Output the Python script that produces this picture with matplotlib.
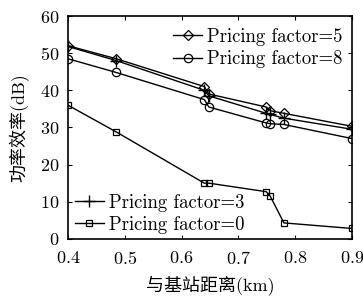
import numpy as np
import matplotlib.pyplot as plt

plt.rcParams['font.family'] = ['cmr10', 'Noto Sans CJK SC']
plt.rcParams['mathtext.fontset'] = 'cm'
plt.rcParams['axes.formatter.use_mathtext'] = True

dist = [0.4, 0.485, 0.64, 0.648, 0.749, 0.756, 0.78, 0.9]
pf5 = [52.0, 48.5, 41.0, 39.0, 35.5, 34.5, 33.8, 30.3]
pf8 = [48.5, 44.8, 37.5, 35.5, 31.2, 31.0, 30.8, 27.0]
pf3 = [51.8, 48.0, 40.0, 38.5, 33.8, 33.5, 32.5, 29.5]
pf0 = [36.0, 28.8, 15.0, 15.0, 12.7, 11.5, 4.3, 2.8]

fig = plt.figure(figsize=(3.63, 3.02), dpi=100)
ax = fig.add_axes([0.187, 0.209, 0.783, 0.738])

l5, = ax.plot(dist, pf5, 'k-', marker='D', ms=5, mfc='none', mew=0.9, lw=1, label='Pricing factor=5')
l8, = ax.plot(dist, pf8, 'k-', marker='o', ms=6, mfc='none', mew=0.9, lw=1, label='Pricing factor=8')
l3, = ax.plot(dist, pf3, 'k-', marker='+', ms=8, mew=1, lw=1, label='Pricing factor=3')
l0, = ax.plot(dist, pf0, 'k-', marker='s', ms=5, mfc='none', mew=0.9, lw=1, label='Pricing factor=0')

leg1 = ax.legend(handles=[l5, l8], loc='upper right', frameon=False, fontsize=13.5,
                 handlelength=1.5, handletextpad=0.3, borderaxespad=0.1, labelspacing=0.25,
                 bbox_to_anchor=(1.0, 0.99))
ax.add_artist(leg1)
ax.legend(handles=[l3, l0], loc='lower left', frameon=False, fontsize=13.5,
          handlelength=1.5, handletextpad=0.3, borderaxespad=0.0, labelspacing=0.2,
          bbox_to_anchor=(0.0, -0.01))

ax.set_xlim(0.4, 0.9)
ax.set_ylim(0, 60)
ax.set_xticks(np.arange(0.4, 0.91, 0.1))
ax.set_yticks(np.arange(0, 61, 10))
ax.tick_params(direction='in', top=True, right=True, labelsize=13, length=3)
ax.tick_params(axis='x', pad=8)
ax.tick_params(axis='y', pad=6)
for s in ax.spines.values():
    s.set_linewidth(1.2)

ax.set_xlabel('与基站距离(km)', fontsize=13, labelpad=6)
ax.set_ylabel('功率效率(dB)', fontsize=13, labelpad=8)

fig.savefig('out.png', dpi=100)
